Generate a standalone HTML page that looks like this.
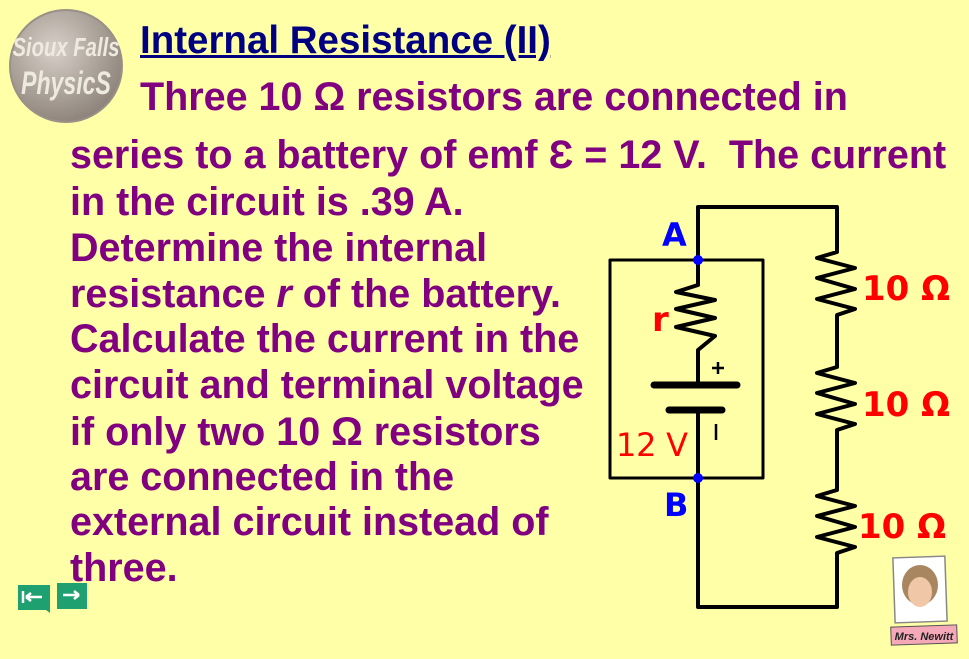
<!DOCTYPE html>
<html><head><meta charset="utf-8"><style>
body{margin:0;width:969px;height:659px;background:#ffffa8;overflow:hidden;position:relative;font-family:"Liberation Sans",Arial,sans-serif}
.t{position:absolute;font-weight:bold;color:#800080;font-size:39.5px;white-space:nowrap;line-height:1}
.h{position:absolute;left:140px;top:22px;font-weight:bold;color:#000080;font-size:38.5px;text-decoration:underline;line-height:1}
svg{position:absolute;left:0;top:0}
.r{font-family:"DejaVu Sans",sans-serif;fill:#ff0000;font-size:34px;font-weight:bold}
</style></head><body>
<div class="h">Internal Resistance (II)</div>
<div class="t" style="left:140px;top:78px">Three 10 Ω resistors are connected in</div>
<div class="t" style="left:70px;top:136px">series to a battery of emf Ɛ = 12 V.&nbsp; The current</div>
<div class="t" style="left:70px;top:183px">in the circuit is .39 A.</div>
<div class="t" style="left:70px;top:229px">Determine the internal</div>
<div class="t" style="left:70px;top:275px">resistance <i>r</i> of the battery.</div>
<div class="t" style="left:70px;top:320px">Calculate the current in the</div>
<div class="t" style="left:70px;top:366px">circuit and terminal voltage</div>
<div class="t" style="left:70px;top:413px">if only two 10 Ω resistors</div>
<div class="t" style="left:70px;top:458px">are connected in the</div>
<div class="t" style="left:70px;top:503px">external circuit instead of</div>
<div class="t" style="left:70px;top:549px">three.</div>
<svg width="969" height="659">
<defs><radialGradient id="g" cx="0.4" cy="0.35" r="0.7"><stop offset="0" stop-color="#d8d0c8"/><stop offset="1" stop-color="#8a8078"/></radialGradient></defs>
<circle cx="66" cy="66" r="56" fill="url(#g)" stroke="#9a9088" stroke-width="2"/>
<text x="66" y="56" text-anchor="middle" font-size="26" font-weight="bold" font-style="italic" fill="#eeeae0" font-family="Liberation Sans Narrow,Liberation Sans" transform="translate(66 0) scale(0.78 1) translate(-66 0)">Sioux Falls</text>
<text x="66" y="94" text-anchor="middle" font-size="32" font-weight="bold" font-style="italic" fill="#eeeae0" font-family="Liberation Sans Narrow,Liberation Sans" transform="translate(66 0) scale(0.72 1) translate(-66 0)">PhysicS</text>
<g fill="none" stroke="#000" stroke-width="4" stroke-linejoin="round">
<polyline points="698,260 698,207 837,207 837,252 817,258 855,268 817,278 855,289 817,299 855,309 837,315 837,367 817,373 855,383 817,393 855,404 817,414 855,424 837,430 837,490 817,496 855,506 817,516 855,527 817,537 855,547 837,553 837,607 698,607 698,478"/>
<rect x="610" y="260" width="153" height="218" stroke-width="3"/>
<polyline points="698,260 698,285 676,292 715,300 676,309 715,318 676,327 715,336 698,350 698,385"/>
<line x1="698" y1="410" x2="698" y2="478"/>
<line x1="654" y1="385" x2="737" y2="385" stroke-width="7" stroke-linecap="round"/>
<line x1="669" y1="410" x2="722" y2="410" stroke-width="7" stroke-linecap="round"/>
<path d="M712 368h12M718 362v12M716 424v16" stroke-width="2.5"/>
</g>
<circle cx="698" cy="260" r="5" fill="#0000ff"/><circle cx="698" cy="478" r="5" fill="#0000ff"/>
<text x="662" y="246" fill="#0000ff" font-size="32" font-weight="bold" font-family="DejaVu Sans">A</text>
<text x="664" y="516" fill="#0000ff" font-size="32" font-weight="bold" font-family="DejaVu Sans">B</text>
<text class="r" x="652" y="331">r</text>
<text x="616" y="456" fill="#ff0000" font-size="32" font-family="DejaVu Sans" textLength="72">12 V</text>
<text class="r" x="862" y="300">10 Ω</text>
<text class="r" x="862" y="416">10 Ω</text>
<text class="r" x="858" y="538">10 Ω</text>
<path d="M18 585h32v28l-4-3H18z" fill="#1fa070"/><path d="M57 583h30v26h-30z" fill="#1fa070"/>
<path d="M26 597h16M26 597l5-4M26 597l5 4M23 591v12M63 595h16M79 595l-5-4M79 595l-5 4" stroke="#fff" stroke-width="2.5" fill="none"/>
<rect x="894" y="557" width="52" height="65" fill="#fff" stroke="#888" stroke-width="1.5" transform="rotate(-2 920 590)"/>
<ellipse cx="920" cy="585" rx="18" ry="20" fill="#a88660"/><ellipse cx="920" cy="592" rx="12" ry="15" fill="#f0c8a8"/>
<rect x="891" y="626" width="66" height="18" fill="#f5a8b8" stroke="#555" transform="rotate(-2 924 635)"/>
<text x="924" y="640" text-anchor="middle" font-size="11" font-weight="bold" font-style="italic" fill="#222" font-family="Liberation Sans">Mrs. Newitt</text>
</svg>
</body></html>
